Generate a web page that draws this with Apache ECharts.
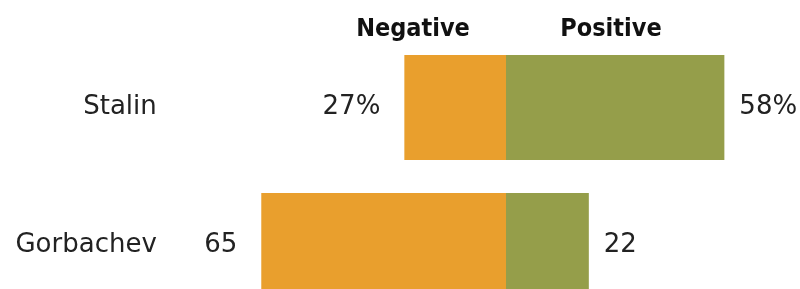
<!DOCTYPE html>
<html>
<head>
<meta charset="utf-8">
<script src="https://cdn.jsdelivr.net/npm/echarts@6/dist/echarts.min.js"></script>
<style>
  html, body { margin: 0; padding: 0; background: #fff; }
  #chart { width: 800px; height: 289px; }
</style>
</head>
<body>
<div id="chart"></div>
<script>
var leaders = ['Stalin', 'Gorbachev'];
var negative = [27, 65];
var positive = [58, 22];
var headers = ['Negative', 'Positive'];

var orange = '#E99F2D';
var green = '#959E4A';
var font = '"DejaVu Sans", sans-serif';
var headFont = 'bold 25px "DejaVu Sans Condensed", "DejaVu Sans", sans-serif';

// only the first row carries the percent sign
function fmt(v, i) {
    return Math.abs(v) + (i === 0 ? '%' : '');
}

var chart = echarts.init(document.getElementById('chart'));

var option = {
    animation: false,
    grid: {
        left: 204.8,
        width: 602.4,
        top: 38.5,
        height: 276,
        outerBoundsMode: 'none'
    },
    xAxis: {
        type: 'value',
        min: -80,
        max: 80,
        show: false
    },
    yAxis: {
        type: 'category',
        data: leaders,
        inverse: true,
        axisLine: { show: false },
        axisTick: { show: false },
        splitLine: { show: false },
        axisLabel: {
            margin: 48,
            color: '#222',
            fontFamily: font,
            fontSize: 26
        }
    },
    series: [
        {
            name: headers[0],
            type: 'bar',
            barWidth: 105,
            barGap: '-100%',
            data: negative.map(function (v) { return -v; }),
            itemStyle: { color: orange },
            label: {
                show: true,
                position: 'left',
                distance: 24,
                color: '#222',
                fontFamily: font,
                fontSize: 26,
                formatter: function (p) { return fmt(p.value, p.dataIndex); }
            }
        },
        {
            name: headers[1],
            type: 'bar',
            barWidth: 105,
            barGap: '-100%',
            data: positive,
            itemStyle: { color: green },
            label: {
                show: true,
                position: 'right',
                distance: 15,
                color: '#222',
                fontFamily: font,
                fontSize: 26,
                formatter: function (p) { return fmt(p.value, p.dataIndex); }
            }
        }
    ],
    graphic: [
        {
            type: 'text',
            x: 413, y: 29,
            style: {
                text: headers[0], fill: '#111', font: headFont,
                textAlign: 'center', textVerticalAlign: 'middle'
            }
        },
        {
            type: 'text',
            x: 611, y: 29,
            style: {
                text: headers[1], fill: '#111', font: headFont,
                textAlign: 'center', textVerticalAlign: 'middle'
            }
        }
    ]
};

chart.setOption(option);
</script>
</body>
</html>
